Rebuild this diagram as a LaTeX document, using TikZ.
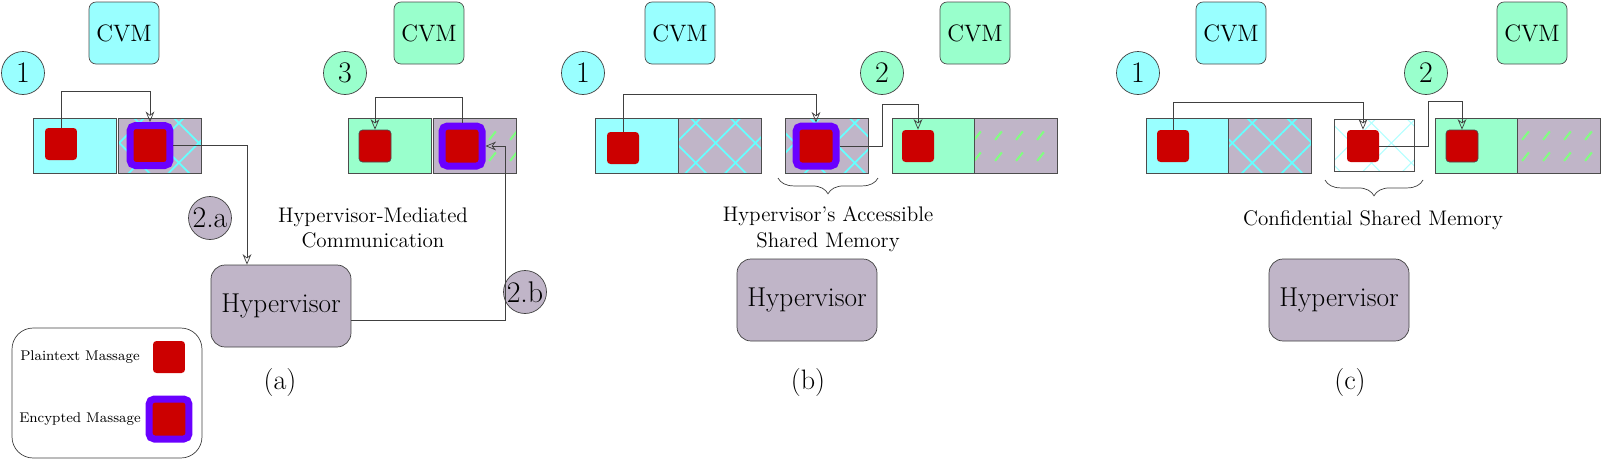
\documentclass[tikz,border=0pt]{standalone}
\usetikzlibrary{arrows.meta,patterns.meta,decorations.pathreplacing,calc}

\definecolor{cyanvm}{HTML}{99FFFF}
\definecolor{greenvm}{HTML}{99FFCC}
\definecolor{hvgray}{HTML}{C0B5C8}
\definecolor{msgred}{HTML}{CC0000}
\definecolor{encpurple}{HTML}{6A00FF}

\pgfdeclarepattern{name=dashes, type=uncolored,
  bottom left={\pgfpoint{0pt}{0pt}}, top right={\pgfpoint{12pt}{12pt}},
  tile size={\pgfpoint{12pt}{12pt}},
  code={\pgfsetlinewidth{1.2pt}\pgfpathmoveto{\pgfpoint{3pt}{3pt}}\pgfpathlineto{\pgfpoint{7pt}{8pt}}\pgfusepath{stroke}}}

\tikzset{
  cvm/.style={draw=black!70, rounded corners=4pt, minimum width=1.4cm, minimum height=1.24cm, font=\fontsize{13.5}{16}\selectfont},
  num/.style={circle, draw=black!75, minimum size=0.86cm, inner sep=0pt, font=\fontsize{17}{18}\selectfont},
  hyp/.style={draw=black!75, fill=hvgray, rounded corners=8pt, minimum width=2.8cm, minimum height=1.64cm, font=\fontsize{15.5}{18}\selectfont},
  mem/.style={draw=black!70, minimum width=1.66cm, minimum height=1.1cm, inner sep=0pt},
  border/.style={postaction={draw=black!70}},
  priv/.style={mem, fill=hvgray, postaction={pattern={Lines[angle=45,distance=16pt,line width=1pt]}, pattern color=cyan!60},
    postaction={pattern={Lines[angle=-45,distance=16pt,line width=1pt]}, pattern color=cyan!60}, border},
  privg/.style={mem, fill=hvgray, postaction={pattern=dashes, pattern color=green!50}, border},
  plain/.style={fill=msgred, rounded corners=2pt, minimum size=0.64cm, inner sep=0pt},
  enc/.style={fill=msgred, draw=encpurple, line width=0.14cm, rounded corners=3pt, minimum size=0.8cm, inner sep=0pt},
  link/.style={draw=black!75, -{Stealth[open,length=6pt,width=5pt]}},
  lbl/.style={font=\fontsize{12}{14.5}\selectfont, align=center},
  figcap/.style={font=\fontsize{16}{18}\selectfont},
  brc/.style={decorate, decoration={brace, mirror, amplitude=9pt}, draw=black!75}
}

\begin{document}
\begin{tikzpicture}[x=0.02cm, y=-0.02cm]
\useasboundingbox (0,0) rectangle (1620,461);

% (a)
\node[cvm, fill=cyanvm] (acvm1) at (124,33) {CVM};
\node[cvm, fill=greenvm] (acvm2) at (429,33) {CVM};
\node[num, fill=cyanvm] (as1) at (23,73) {1};
\node[num, fill=greenvm] (as3) at (345,73) {3};
\node[mem, fill=cyanvm] (a1l) at (75,145.5) {};
\node[priv] (a1r) at (160,145.5) {};
\node[mem, fill=greenvm] (a2l) at (390,145.5) {};
\node[privg] (a2r) at (475,145.5) {};
\node[plain] (a1p) at (61,144) {};
\node[enc] (a1e) at (150,145.5) {};
\node[plain, draw=black!70] (a2p) at (375,146) {};
\node[enc] (a2e) at (462,146) {};
\node[hyp] (ahv) at (281,306) {Hypervisor};
\node[num, fill=hvgray] (as2a) at (210,218) {2.a};
\node[num, fill=hvgray] (as2b) at (525,292) {2.b};
\node[lbl] (amed) at (373,228) {Hypervisor-Mediated\\Communication};
\node[figcap] (acap) at (280,382) {(a)};
\draw[link] (a1p.north) -- ++(0,-36) -| (a1e.north);
\draw[link] (a1e.east) -| (ahv.north -| 247,0);
\draw[link] (ahv.east |- 0,320) -| (505,146) -- (a2e.east);
\draw[link] (a2e.north) -- ++(0,-25) -| (a2p.north);

% legend
\node[draw=black!75, rounded corners=12pt, minimum width=3.8cm, minimum height=2.6cm] (leg) at (107,393) {};
\node[font=\fontsize{8}{10}\selectfont] (legp) at (80,357) {Plaintext Massage};
\node[font=\fontsize{8}{10}\selectfont] (lege) at (80,419) {Encypted Massage};
\node[plain] (legps) at (169,357) {};
\node[enc] (leges) at (169,419) {};

% (b)
\node[cvm, fill=cyanvm] (bcvm1) at (680,33) {CVM};
\node[cvm, fill=greenvm] (bcvm2) at (975,33) {CVM};
\node[num, fill=cyanvm] (bs1) at (583,73) {1};
\node[num, fill=greenvm] (bs2) at (882,73) {2};
\node[mem, fill=cyanvm] (b1l) at (636.5,145.5) {};
\node[priv] (b1r) at (719.5,145.5) {};
\node[priv] (bsh) at (826.5,145.5) {};
\node[mem, fill=greenvm] (b2l) at (933.5,145.5) {};
\node[privg] (b2r) at (1016,145.5) {};
\node[plain] (b1p) at (623,148) {};
\node[enc] (bshe) at (816,146) {};
\node[plain] (b2p) at (918,146) {};
\node[hyp] (bhv) at (807,300) {Hypervisor};
\node[lbl] (bacc) at (828,229) {Hypervisor's Accessible\\Shared Memory};
\node[figcap] (bcap) at (808,382) {(b)};
\draw[link] (b1p.north) -- ++(0,-37) -| (bshe.north);
\draw[link] (bshe.east) -| (882,104) -| (b2p.north);
\draw[brc] (778,178) -- (878,178);

% (c)
\node[cvm, fill=cyanvm] (ccvm1) at (1231,33) {CVM};
\node[cvm, fill=greenvm] (ccvm2) at (1532,33) {CVM};
\node[num, fill=cyanvm] (cs1) at (1138,73) {1};
\node[num, fill=greenvm] (cs2) at (1426,73) {2};
\node[mem, fill=cyanvm] (c1l) at (1187.5,145.5) {};
\node[priv] (c1r) at (1270,145.5) {};
\node[mem, minimum width=1.6cm, minimum height=1.04cm, fill=white,
  postaction={pattern={Lines[angle=45,distance=16pt,line width=0.6pt]}, pattern color=cyan!30},
  postaction={pattern={Lines[angle=-45,distance=16pt,line width=0.6pt]}, pattern color=cyan!30}, border] (csh) at (1374,145) {};
\node[mem, fill=greenvm] (c2l) at (1476.5,145.5) {};
\node[privg] (c2r) at (1559,145.5) {};
\node[plain] (c1p) at (1173,146) {};
\node[plain] (cshp) at (1363,146) {};
\node[plain, draw=black!70] (c2p) at (1462,146) {};
\node[hyp] (chv) at (1339,300) {Hypervisor};
\node[lbl] (cconf) at (1373,220) {Confidential Shared Memory};
\node[figcap] (ccap) at (1350,382) {(c)};
\draw[link] (c1p.north) -- ++(0,-27) -| (cshp.north);
\draw[link] (cshp.east) -| (1428,101) -| (c2p.north);
\draw[brc] (1325,180) -- (1423,180);
\end{tikzpicture}
\end{document}
